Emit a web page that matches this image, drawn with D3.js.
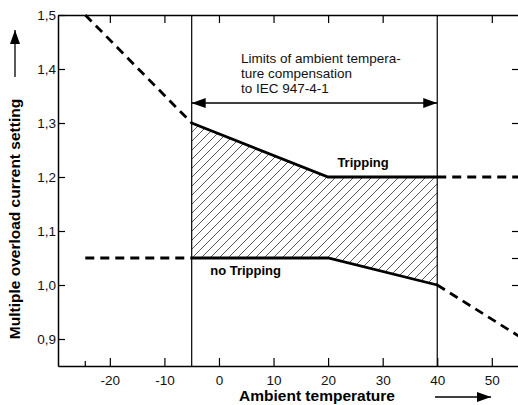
<!DOCTYPE html>
<html>
<head>
<meta charset="utf-8">
<script src="https://cdn.jsdelivr.net/npm/d3@7"></script>
<style>
  body { margin: 0; background: #fff; }
  svg { display: block; font-family: "Liberation Sans", Arial, sans-serif; }
</style>
</head>
<body>
<div id="chart"></div>
<script>
// limits of the compensation band (deg C)
var bandLimits = [-5, 40];
// solid curves inside the band
var bandTemps = [-5, 20, 40];
var trippingValues = [1.30, 1.20, 1.20];
var noTrippingValues = [1.05, 1.05, 1.00];
// dashed continuations outside the band
var trippingLeft = [[-24.5, 1.50], [-5, 1.30]];
var trippingRight = [[40, 1.20], [55, 1.20]];
var noTrippingLeft = [[-24.5, 1.05], [-5, 1.05]];
var noTrippingRight = [[40, 1.00], [55, 0.905]];
// ticks
var xTicks = [-20, -10, 0, 10, 20, 30, 40, 50];
var xTickLabels = ["-20", "-10", "0", "10", "20", "30", "40", "50"];
var yTicks = [0.9, 1.0, 1.1, 1.2, 1.3, 1.4, 1.5];
var yTickLabels = ["0,9", "1,0", "1,1", "1,2", "1,3", "1,4", "1,5"];
var rightTicks = [1.4, 1.3, 1.1, 1.05, 1.0];
var limitsText = ["Limits of ambient tempera-", "ture compensation", "to IEC 947-4-1"];

var W = 518, H = 405;
var margin = {top: 15, right: 0, bottom: 39, left: 58};

var x = d3.scaleLinear().domain([-29.5, 54.8]).range([margin.left, W - margin.right]);
var y = d3.scaleLinear().domain([0.85, 1.5]).range([H - margin.bottom, margin.top]);

var svg = d3.select("#chart").append("svg")
    .attr("width", W)
    .attr("height", H);

var defs = svg.append("defs");
defs.append("pattern")
    .attr("id", "hatch")
    .attr("patternUnits", "userSpaceOnUse")
    .attr("width", 9)
    .attr("height", 9)
  .append("path")
    .attr("d", "M-1,1 l2,-2 M0,9 l9,-9 M8,10 l2,-2")
    .attr("stroke", "#111")
    .attr("stroke-width", 0.7);

defs.append("marker")
    .attr("id", "head")
    .attr("viewBox", "0 0 14 10")
    .attr("refX", 14)
    .attr("refY", 5)
    .attr("markerWidth", 14)
    .attr("markerHeight", 10)
    .attr("markerUnits", "userSpaceOnUse")
    .attr("orient", "auto-start-reverse")
  .append("path")
    .attr("d", "M0,0 L14,5 L0,10 Z")
    .attr("fill", "#000");

var line = d3.line()
    .x(d => x(d[0]))
    .y(d => y(d[1]));

// hatched band between the two curves
var band = bandTemps.map((t, i) => ({t: t, hi: trippingValues[i], lo: noTrippingValues[i]}));
svg.append("path")
    .datum(band)
    .attr("fill", "url(#hatch)")
    .attr("d", d3.area()
        .x(d => x(d.t))
        .y0(d => y(d.lo))
        .y1(d => y(d.hi)));

// axes (ticks pointing inwards)
var bottomAxis = svg.append("g")
    .attr("transform", `translate(0,${y(0.85)})`)
    .call(d3.axisBottom(x).tickValues(xTicks).tickSizeInner(-8).tickSizeOuter(0).tickPadding(9)
        .tickFormat((d, i) => xTickLabels[i]));

var topAxis = svg.append("g")
    .attr("transform", `translate(0,${y(1.5)})`)
    .call(d3.axisTop(x).tickValues(xTicks.filter(d => d !== 40)).tickSizeInner(-8).tickSizeOuter(0).tickFormat(""));

var leftAxis = svg.append("g")
    .attr("transform", `translate(${x(-29.5)},0)`)
    .call(d3.axisLeft(y).tickValues(yTicks).tickSizeInner(-7).tickSizeOuter(0).tickPadding(2)
        .tickFormat((d, i) => yTickLabels[i]));

var rightAxis = svg.append("g")
    .attr("transform", `translate(${W},0)`)
    .call(d3.axisRight(y).tickValues(rightTicks).tickSizeInner(-6).tickSizeOuter(0).tickFormat(""));
rightAxis.select(".domain").remove();

// extra short tick at -25
svg.append("line")
    .attr("x1", x(-24.5)).attr("x2", x(-24.5))
    .attr("y1", y(0.85)).attr("y2", y(0.85) - 5)
    .attr("stroke", "#000").attr("stroke-width", 1.2);

[bottomAxis, topAxis, leftAxis, rightAxis].forEach(g => {
  g.selectAll(".domain").attr("stroke", "#000").attr("stroke-width", 1.5);
  g.selectAll(".tick line").attr("stroke", "#000").attr("stroke-width", 1.2);
  g.selectAll(".tick text")
      .attr("fill", "#111")
      .style("font-size", "13.5px")
      .style("font-family", "'Liberation Sans', Arial, sans-serif");
});
leftAxis.selectAll(".tick text").attr("dy", "0.36em");

// band limit verticals
svg.selectAll(".limit")
    .data(bandLimits)
  .enter().append("line")
    .attr("class", "limit")
    .attr("x1", d => x(d)).attr("x2", d => x(d))
    .attr("y1", y(1.5)).attr("y2", y(0.85))
    .attr("stroke", "#000")
    .attr("stroke-width", 1.2);

// solid curves
[trippingValues, noTrippingValues].forEach(vals => {
  svg.append("path")
      .datum(bandTemps.map((t, i) => [t, vals[i]]))
      .attr("fill", "none")
      .attr("stroke", "#000")
      .attr("stroke-width", 2.8)
      .attr("d", line);
});

// dashed continuations
[trippingLeft, trippingRight, noTrippingLeft, noTrippingRight].forEach(pts => {
  svg.append("path")
      .datum(pts)
      .attr("fill", "none")
      .attr("stroke", "#000")
      .attr("stroke-width", 2.8)
      .attr("stroke-dasharray", "9,6")
      .attr("d", line);
});

// double arrow for the compensation limits
svg.append("line")
    .attr("x1", x(bandLimits[0])).attr("x2", x(bandLimits[1]))
    .attr("y1", y(1.337)).attr("y2", y(1.337))
    .attr("stroke", "#000")
    .attr("stroke-width", 1.3)
    .attr("marker-start", "url(#head)")
    .attr("marker-end", "url(#head)");

svg.append("text")
    .attr("x", 241)
    .attr("y", 63)
    .style("font-size", "13.5px")
    .attr("fill", "#111")
  .selectAll("tspan")
    .data(limitsText)
  .enter().append("tspan")
    .attr("x", 241)
    .attr("dy", (d, i) => i ? 15 : 0)
    .text(d => d);

svg.append("text")
    .attr("x", x(21.7))
    .attr("y", y(1.2) - 10)
    .style("font-size", "13px")
    .style("font-weight", "bold")
    .text("Tripping");

svg.append("text")
    .attr("x", x(-1.6))
    .attr("y", y(1.05) + 17)
    .style("font-size", "13px")
    .style("font-weight", "bold")
    .text("no Tripping");

// axis titles with arrows
svg.append("text")
    .attr("x", 317)
    .attr("y", 401)
    .attr("text-anchor", "middle")
    .style("font-size", "15.5px")
    .style("font-weight", "bold")
    .text("Ambient temperature");

svg.append("line")
    .attr("x1", 435).attr("x2", 491)
    .attr("y1", 397).attr("y2", 397)
    .attr("stroke", "#000")
    .attr("stroke-width", 1.3)
    .attr("marker-end", "url(#head)");

svg.append("text")
    .attr("transform", "translate(20,219) rotate(-90)")
    .attr("text-anchor", "middle")
    .style("font-size", "15.5px")
    .style("font-weight", "bold")
    .text("Multiple overload current setting");

svg.append("line")
    .attr("x1", 15).attr("x2", 15)
    .attr("y1", 77).attr("y2", 30)
    .attr("stroke", "#000")
    .attr("stroke-width", 1.3)
    .attr("marker-end", "url(#head)");
</script>
</body>
</html>
